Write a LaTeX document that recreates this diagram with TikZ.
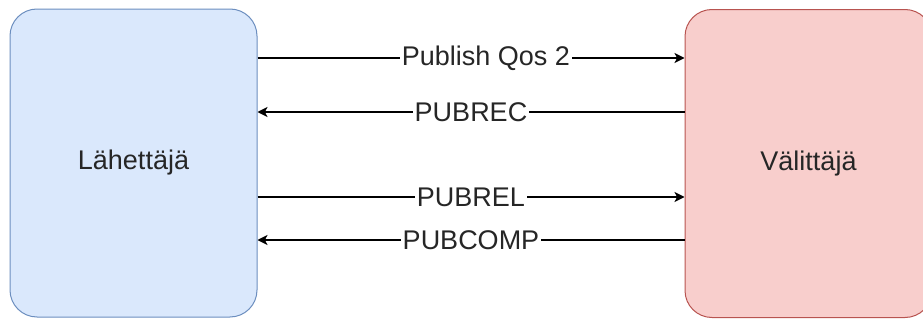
\documentclass[tikz,border=0pt]{standalone}
\usepackage{fontspec}
\setmainfont{Liberation Sans}
\usepackage{tikz}
\usetikzlibrary{arrows.meta, positioning}

\definecolor{sndfill}{HTML}{DAE8FC}
\definecolor{sndline}{HTML}{6C8EBF}
\definecolor{brkfill}{HTML}{F8CECC}
\definecolor{brkline}{HTML}{B85450}

\begin{document}
\begin{tikzpicture}[x=0.5pt, y=-0.5pt,
  party/.style={draw, rectangle, rounded corners=13.5pt, line width=0.5pt,
    minimum width=123.5pt, minimum height=154pt, text=black!85,
    font=\fontsize{13.5}{16}\selectfont},
  msg/.style={line width=0.6pt, -{Stealth[length=5pt, width=5pt, inset=1.3pt]}},
  lbl/.style={fill=white, inner sep=1pt, text=black!85,
    font=\fontsize{13.5}{16}\selectfont}]
 \useasboundingbox (0, 0) rectangle (923, 321);
 \node[party, fill=sndfill, draw=sndline] (snd) at (133.5, 163) {Lähettäjä};
 \node[party, fill=brkfill, draw=brkline] (brk) at (808.5, 163.5) {Välittäjä};
 \draw[msg] (snd.east |- 0, 58) -- node[lbl, pos=0.535] {Publish Qos 2} (brk.west |- 0, 58);
 \draw[msg] (brk.west |- 0, 112) -- node[lbl] {PUBREC} (snd.east |- 0, 112);
 \draw[msg] (snd.east |- 0, 197) -- node[lbl] {PUBREL} (brk.west |- 0, 197);
 \draw[msg] (brk.west |- 0, 240) -- node[lbl] {PUBCOMP} (snd.east |- 0, 240);
\end{tikzpicture}
\end{document}
